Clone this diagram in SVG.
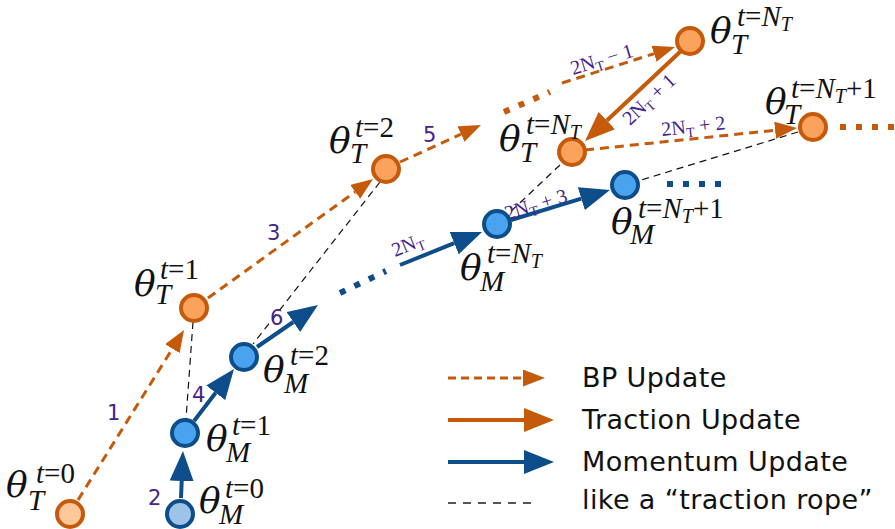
<svg xmlns="http://www.w3.org/2000/svg" width="895" height="529" viewBox="0 0 895 529">
<style>
.rope{stroke:#111;stroke-width:1.2;stroke-dasharray:7 5;fill:none}
.bp{stroke:#C55A0B;stroke-width:3;stroke-dasharray:9 6;fill:none}
.tr{stroke:#C55A0B;stroke-width:4;fill:none}
.mo{stroke:#0D4E8A;stroke-width:4;fill:none}
.dotO{stroke:#C55A0B;stroke-width:6;stroke-dasharray:6 10;fill:none}
.dotB{stroke:#0D4E8A;stroke-width:6;stroke-dasharray:6 10;fill:none}
.nT{fill:#FBA25C;stroke:#C55A0B;stroke-width:4}
.nM{fill:#4AA3EE;stroke:#0D4E8A;stroke-width:4}
.th{font-family:"DejaVu Serif","Liberation Serif",serif;font-style:italic;font-size:36px;fill:#111}
.sp{font-family:"Liberation Serif","DejaVu Serif",serif;font-size:29px;fill:#111}
.it{font-style:italic}
.num{font-family:"DejaVu Sans","Liberation Sans",sans-serif;font-size:21px;fill:#46228C}
.el{font-family:"Liberation Serif","DejaVu Serif",serif;font-size:20px;fill:#46228C}
.leg{font-family:"DejaVu Sans","Liberation Sans",sans-serif;font-size:27px;letter-spacing:0.4px;fill:#111}
</style>
<defs>
<marker id="hbp" markerUnits="userSpaceOnUse" markerWidth="22" markerHeight="17" refX="0" refY="8.5" orient="auto" viewBox="0 0 22 17"><path d="M0,0 L22,8.5 L0,17 Z" fill="#C55A0B"/></marker>
<marker id="htr" markerUnits="userSpaceOnUse" markerWidth="30" markerHeight="24" refX="0" refY="12" orient="auto" viewBox="0 0 30 24"><path d="M0,0 L30,12 L0,24 Z" fill="#C55A0B"/></marker>
<marker id="hmo" markerUnits="userSpaceOnUse" markerWidth="30" markerHeight="24" refX="0" refY="12" orient="auto" viewBox="0 0 30 24"><path d="M0,0 L30,12 L0,24 Z" fill="#0D4E8A"/></marker>
</defs>
<rect width="895" height="529" fill="#fff"/>
<g id="connectors">
<line class="rope" x1="193" y1="322" x2="186" y2="419"/>
<line class="rope" x1="380" y1="182" x2="253" y2="344"/>
<line class="rope" x1="560" y1="165" x2="507" y2="215"/>
<line class="rope" x1="798" y1="132" x2="638" y2="181"/>
<line class="bp" x1="78" y1="500" x2="172.4" y2="348.7" marker-end="url(#hbp)"/>
<line class="mo" x1="181" y1="498" x2="181.7" y2="481" marker-end="url(#hmo)"/>
<line class="bp" x1="208" y1="298" x2="355.2" y2="191.9" marker-end="url(#hbp)"/>
<line class="mo" x1="194" y1="421" x2="215.7" y2="392.8" marker-end="url(#hmo)"/>
<line class="bp" x1="400" y1="162" x2="461" y2="134.1" marker-end="url(#hbp)"/>
<line class="mo" x1="257" y1="347" x2="293.3" y2="322" marker-end="url(#hmo)"/>
<line class="dotB" x1="340" y1="293" x2="386" y2="271"/>
<line class="mo" x1="400" y1="265" x2="454.2" y2="243.2" marker-end="url(#hmo)"/>
<line class="dotO" x1="504" y1="112" x2="550" y2="92"/>
<line class="bp" x1="562" y1="83" x2="654" y2="53.7" marker-end="url(#hbp)"/>
<line class="tr" x1="681" y1="51" x2="606.9" y2="120.5" marker-end="url(#htr)"/>
<line class="bp" x1="585" y1="150" x2="775.1" y2="130.3" marker-end="url(#hbp)"/>
<line class="mo" x1="511" y1="220" x2="581.3" y2="198.7" marker-end="url(#hmo)"/>
<line class="dotB" x1="667" y1="184" x2="722" y2="184"/>
<line class="dotO" x1="840" y1="127" x2="900" y2="127"/>
<text class="num" x="107" y="420">1</text>
<text class="num" x="148" y="505">2</text>
<text class="num" x="267" y="240">3</text>
<text class="num" x="192" y="402">4</text>
<text class="num" x="423" y="142">5</text>
<text class="num" x="270" y="325">6</text>
<text class="el" transform="translate(395,257) rotate(-22)">2N<tspan font-size="14" dy="4">T</tspan></text>
<text class="el" transform="translate(573,75) rotate(-17)">2N<tspan font-size="14" dy="4">T</tspan><tspan dy="-4"> − 1</tspan></text>
<text class="el" transform="translate(630,126) rotate(-43)">2N<tspan font-size="14" dy="4">T</tspan><tspan dy="-4"> + 1</tspan></text>
<text class="el" transform="translate(662,136) rotate(-6)">2N<tspan font-size="14" dy="4">T</tspan><tspan dy="-4"> + 2</tspan></text>
<text class="el" transform="translate(507,220) rotate(-17)">2N<tspan font-size="14" dy="4">T</tspan><tspan dy="-4"> + 3</tspan></text>
</g>
<g id="node-T0">
<circle class="nT" cx="70" cy="514" r="13" style="fill:#FCC89A"/>
<text class="th" x="6" y="497">θ</text>
<text class="sp" x="36" y="483"><tspan class="it">t</tspan>=0</text>
<text class="sp it" x="28" y="510">T</text>
</g>
<g id="node-T1">
<circle class="nT" cx="194" cy="308" r="13"/>
<text class="th" x="134" y="296">θ</text>
<text class="sp" x="160" y="279"><tspan class="it">t</tspan>=1</text>
<text class="sp it" x="155" y="304">T</text>
</g>
<g id="node-T2">
<circle class="nT" cx="386" cy="169" r="13"/>
<text class="th" x="329" y="153">θ</text>
<text class="sp" x="355" y="137"><tspan class="it">t</tspan>=2</text>
<text class="sp it" x="350" y="163">T</text>
</g>
<g id="node-TN-low">
<circle class="nT" cx="572" cy="152" r="13"/>
<text class="th" x="499" y="151">θ</text>
<text class="sp" x="526" y="134"><tspan class="it">t</tspan>=<tspan class="it">N</tspan><tspan class="it" font-size="20" dy="5">T</tspan></text>
<text class="sp it" x="520" y="162">T</text>
</g>
<g id="node-TN-up">
<circle class="nT" cx="690" cy="41" r="13"/>
<text class="th" x="710" y="43">θ</text>
<text class="sp" x="737" y="26"><tspan class="it">t</tspan>=<tspan class="it">N</tspan><tspan class="it" font-size="20" dy="5">T</tspan></text>
<text class="sp it" x="731" y="54">T</text>
</g>
<g id="node-TN1">
<circle class="nT" cx="813" cy="127" r="13"/>
<text class="th" x="765" y="114">θ</text>
<text class="sp" x="791" y="98"><tspan class="it">t</tspan>=<tspan class="it">N</tspan><tspan class="it" font-size="20" dy="5">T</tspan><tspan dy="-5">+1</tspan></text>
<text class="sp it" x="784" y="124">T</text>
</g>
<g id="node-M0">
<circle class="nM" cx="180" cy="514" r="13" style="fill:#9EC3E8"/>
<text class="th" x="199" y="513">θ</text>
<text class="sp" x="225" y="498"><tspan class="it">t</tspan>=0</text>
<text class="sp it" x="219" y="524">M</text>
</g>
<g id="node-M1">
<circle class="nM" cx="185" cy="433" r="13"/>
<text class="th" x="206" y="451">θ</text>
<text class="sp" x="232" y="435"><tspan class="it">t</tspan>=1</text>
<text class="sp it" x="226" y="462">M</text>
</g>
<g id="node-M2">
<circle class="nM" cx="244" cy="357" r="13"/>
<text class="th" x="263" y="382">θ</text>
<text class="sp" x="290" y="365"><tspan class="it">t</tspan>=2</text>
<text class="sp it" x="284" y="393">M</text>
</g>
<g id="node-MN">
<circle class="nM" cx="497" cy="224" r="13"/>
<text class="th" x="460" y="280">θ</text>
<text class="sp" x="487" y="263"><tspan class="it">t</tspan>=<tspan class="it">N</tspan><tspan class="it" font-size="20" dy="5">T</tspan></text>
<text class="sp it" x="480" y="291">M</text>
</g>
<g id="node-MN1">
<circle class="nM" cx="625" cy="185" r="13"/>
<text class="th" x="611" y="234">θ</text>
<text class="sp" x="638" y="218"><tspan class="it">t</tspan>=<tspan class="it">N</tspan><tspan class="it" font-size="20" dy="5">T</tspan><tspan dy="-5">+1</tspan></text>
<text class="sp it" x="630" y="244">M</text>
</g>
<g id="legend">
<line class="bp" x1="448" y1="378" x2="523" y2="378" style="stroke-dasharray:8 5" marker-end="url(#hbp)"/>
<line class="tr" x1="448" y1="420" x2="524" y2="420" marker-end="url(#htr)"/>
<line class="mo" x1="448" y1="462" x2="524" y2="462" marker-end="url(#hmo)"/>
<line x1="448" y1="503" x2="534" y2="503" stroke="#555" stroke-width="2" stroke-dasharray="8 7"/>
<text class="leg" x="582" y="387">BP Update</text>
<text class="leg" x="582" y="429">Traction Update</text>
<text class="leg" x="582" y="471">Momentum Update</text>
<text class="leg" x="582" y="509">like a “traction rope”</text>
</g>
</svg>
